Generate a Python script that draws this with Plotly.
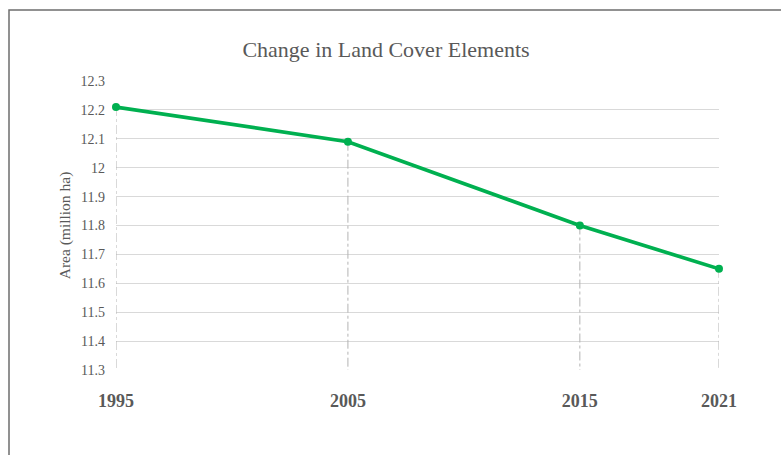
import plotly.graph_objects as go

years = [1995, 2005, 2015, 2021]
area = [12.21, 12.09, 11.80, 11.65]
y_ticks = [11.3, 11.4, 11.5, 11.6, 11.7, 11.8, 11.9, 12.0, 12.1, 12.2, 12.3]
y_tick_labels = ["11.3", "11.4", "11.5", "11.6", "11.7", "11.8", "11.9", "12", "12.1", "12.2", "12.3"]
x_tick_labels = ["<b>1995</b>", "<b>2005</b>", "<b>2015</b>", "<b>2021</b>"]

y_min, y_max = 11.3, 12.3
serif = "Liberation Serif, Times New Roman, serif"
grey_text = "#595959"
green = "#00B050"

# drop lines from each point down to the axis floor
drop_x, drop_y = [], []
for yr, v in zip(years, area):
    drop_x += [yr, yr, None]
    drop_y += [v, y_min, None]

fig = go.Figure()
fig.add_trace(go.Scatter(
    x=drop_x, y=drop_y, mode="lines",
    line=dict(color="#b3b3b3", width=1, dash="dashdot"),
    hoverinfo="skip", showlegend=False, cliponaxis=False,
))
fig.add_trace(go.Scatter(
    x=years, y=area, mode="lines+markers",
    line=dict(color=green, width=3.7),
    marker=dict(color=green, size=8),
    showlegend=False, cliponaxis=False,
))

fig.update_layout(
    width=781, height=455,
    margin=dict(l=116, r=62, t=81, b=85),
    paper_bgcolor="white", plot_bgcolor="white",
    title=dict(
        text="Change in Land Cover Elements",
        x=386 / 781, xanchor="center", y=1 - 49 / 455, yanchor="middle",
        font=dict(family=serif, size=22, color=grey_text),
    ),
    xaxis=dict(
        range=[years[0], years[-1]],
        tickvals=years, ticktext=x_tick_labels,
        showgrid=False, zeroline=False, showline=False, ticks="",
        tickfont=dict(family=serif, size=18, color=grey_text),
        ticklabelstandoff=18,
    ),
    yaxis=dict(
        range=[y_min, y_max],
        tickvals=y_ticks, ticktext=y_tick_labels,
        showgrid=True, gridcolor="#d9d9d9", gridwidth=1,
        zeroline=False, showline=False, ticks="",
        tickfont=dict(family=serif, size=14, color=grey_text),
        ticklabelstandoff=10,
        title=dict(text="Area (million ha)", standoff=6,
                   font=dict(family=serif, size=15.5, color=grey_text)),
    ),
    shapes=[dict(
        type="rect", xref="paper", yref="paper",
        x0=(9 - 116) / 603, x1=2.0,
        y0=-1.0, y1=(370 - 10) / 289,
        line=dict(color="#6e6e6e", width=1.5),
        fillcolor="rgba(0,0,0,0)", layer="below",
    )],
)

fig.write_html("out.html")
